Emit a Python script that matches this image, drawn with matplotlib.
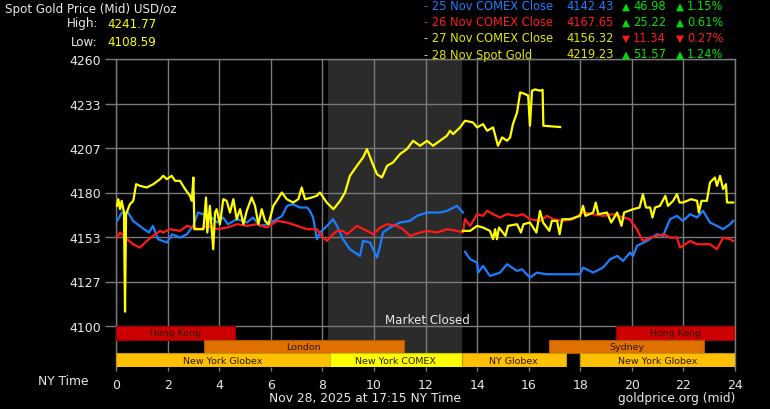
import numpy as np
import matplotlib
matplotlib.use("Agg")
import matplotlib.pyplot as plt
from matplotlib.patches import Rectangle

plt.rcParams['font.family'] = ['DejaVu Sans']

# ---------------- data ----------------
# 25 Nov COMEX Close (blue), two pieces
blue1_h = [0.04, 0.23, 0.47, 0.66, 1.00, 1.28, 1.43, 1.63, 1.98, 2.17, 2.48, 2.75, 2.99, 3.18, 3.37,
           3.64, 3.92, 4.15, 4.34, 4.69, 5.08, 5.31, 5.58, 5.89, 6.24, 6.44, 6.63, 6.86, 7.13, 7.41,
           7.52, 7.64, 7.79, 7.91, 8.18, 8.41, 8.57, 8.80, 9.07, 9.46, 9.58, 9.85, 9.97, 10.12, 10.24,
           10.35, 10.62, 11.01, 11.40, 11.67, 12.06, 12.56, 12.83, 13.22, 13.45]
blue1_v = [4163, 4168, 4168, 4163, 4159, 4156, 4160, 4152, 4150, 4155, 4153, 4155, 4160, 4168, 4167,
           4166, 4162, 4165, 4161, 4164, 4162, 4165, 4160, 4161, 4164, 4166, 4172, 4173, 4171, 4171,
           4169, 4165, 4152, 4156, 4160, 4164, 4160, 4152, 4146, 4142, 4151, 4150, 4146, 4141, 4148,
           4156, 4159, 4162, 4163, 4166, 4168, 4168, 4169, 4172, 4168]
blue2_h = [13.53, 13.73, 14.00, 14.04, 14.23, 14.50, 14.89, 15.16, 15.55, 15.74, 16.05, 16.32, 16.71,
           16.83, 17.99, 18.11, 18.50, 18.88, 19.16, 19.43, 19.66, 19.93, 20.05, 20.20, 20.59, 20.78,
           20.98, 21.21, 21.48, 21.75, 21.98, 22.26, 22.53, 22.76, 23.03, 23.30, 23.54, 23.81, 23.93]
blue2_v = [4144.5, 4140, 4138, 4132, 4136, 4130, 4132, 4137, 4133, 4134, 4129, 4132, 4131,
           4131, 4131, 4135, 4132, 4135, 4140, 4142, 4139, 4144, 4142, 4148, 4151, 4153,
           4155, 4154, 4164, 4166, 4163, 4167, 4165, 4169, 4162, 4160, 4158, 4161, 4163]

# 26 Nov COMEX Close (red)
red_h = [0.04, 0.16, 0.43, 0.66, 0.93, 1.20, 1.43, 1.71, 1.83, 2.09, 2.48, 2.75, 2.99, 3.26, 3.53,
         3.92, 4.30, 4.69, 5.08, 5.46, 5.85, 6.24, 6.63, 7.02, 7.41, 7.79, 8.03, 8.18, 8.41, 8.57,
         8.80, 8.96, 9.34, 9.73, 9.97, 10.24, 10.51, 10.89, 11.13, 11.40, 11.79, 12.06, 12.45, 12.83,
         13.22, 13.45, 13.53, 13.73, 14.00, 14.23, 14.39, 14.62, 14.89, 15.16, 15.55, 15.78, 16.05,
         16.44, 16.71, 16.94, 17.33, 17.72, 18.11, 18.50, 18.88, 19.27, 19.66, 19.93, 20.05, 20.20,
         20.32, 20.43, 20.71, 20.98, 21.21, 21.48, 21.75, 21.87, 21.98, 22.26, 22.53, 22.76, 23.03,
         23.30, 23.54, 23.81, 23.93]
red_v = [4153, 4156, 4152, 4149, 4147, 4151, 4154, 4157, 4156, 4158, 4157, 4160, 4159, 4158, 4160,
         4158, 4159, 4161, 4160, 4161, 4159, 4163, 4162, 4160, 4158, 4158, 4153, 4151, 4155, 4157,
         4157, 4155, 4160, 4157, 4155, 4159, 4161, 4160, 4158, 4154, 4156, 4157, 4156, 4158,
         4157, 4156, 4164, 4160, 4167, 4166, 4169, 4167, 4165, 4167, 4166, 4167, 4164,
         4163, 4166, 4164, 4163, 4164, 4168, 4167, 4166, 4167, 4165, 4164, 4161, 4158,
         4154, 4151, 4153, 4154, 4155, 4153, 4153, 4147, 4148, 4151, 4149, 4149, 4149,
         4146, 4153, 4152, 4151]

# 27 Nov COMEX Close (yellow, lower)
y27_h = [13.45, 13.73, 14.00, 14.23, 14.50, 14.62, 14.70, 14.77, 14.85, 15.10, 15.20, 15.55, 15.70,
         15.80, 16.05, 16.30, 16.44, 16.56, 16.80, 16.90, 17.10, 17.20, 17.30, 17.60, 17.99, 18.11,
         18.20, 18.50, 18.60, 18.70, 19.04, 19.20, 19.43, 19.60, 19.70, 20.05, 20.30, 20.43, 20.55,
         20.71, 20.80, 20.90, 21.09, 21.30, 21.40, 21.60, 21.75, 21.85, 21.98, 22.30, 22.53, 22.60,
         22.70, 22.91, 23.03, 23.22, 23.30, 23.42, 23.54, 23.65, 23.69, 23.93]
y27_v = [4157, 4157, 4160, 4159, 4157, 4152, 4158, 4152, 4159, 4154, 4160, 4161, 4156,
         4161, 4162, 4156, 4169, 4162, 4157, 4163, 4163, 4155, 4164, 4164, 4166, 4172,
         4166, 4168, 4174, 4167, 4168, 4162, 4168, 4160, 4168, 4170, 4171, 4179, 4171,
         4171, 4165, 4171, 4172, 4178, 4172, 4175, 4179, 4174, 4174, 4176, 4175, 4168,
         4175, 4175, 4186, 4189, 4184, 4190, 4182, 4185, 4174, 4174]

# 28 Nov Spot Gold (yellow, upper)
spot_h = [0.04, 0.09, 0.16, 0.22, 0.31, 0.35, 0.39, 0.54, 0.67, 0.78, 0.93, 1.19, 1.45, 1.71, 1.83,
          1.97, 2.16, 2.29, 2.48, 2.68, 2.87, 2.94, 3.00, 3.04, 3.13, 3.39, 3.49, 3.54, 3.64, 3.77,
          3.84, 3.90, 4.03, 4.16, 4.29, 4.42, 4.55, 4.68, 4.81, 4.94, 5.07, 5.26, 5.39, 5.52, 5.65,
          5.78, 5.91, 6.10, 6.23, 6.43, 6.62, 6.87, 7.07, 7.20, 7.33, 7.59, 7.78, 7.91, 8.17, 8.43,
          8.69, 8.88, 9.07, 9.34, 9.58, 9.73, 9.93, 10.12, 10.31, 10.51, 10.74, 11.01, 11.28, 11.52,
          11.79, 12.06, 12.29, 12.56, 12.83, 12.95, 13.07, 13.34, 13.53, 13.84, 14.00, 14.23, 14.39,
          14.62, 14.81, 14.97, 15.16, 15.28, 15.39, 15.55, 15.67, 15.86, 15.98, 16.05, 16.13, 16.25,
          16.44, 16.54, 16.57, 17.22]
spot_v = [4172, 4176, 4170, 4175, 4168, 4108.6, 4167, 4173, 4175, 4185, 4184, 4183, 4185, 4188, 4190,
          4188, 4190, 4187, 4187, 4182, 4178, 4175, 4189, 4158, 4158, 4158, 4177, 4156, 4172, 4146,
          4168, 4170, 4161, 4176, 4175, 4168, 4176, 4164, 4170, 4161, 4169, 4177, 4172, 4161, 4170,
          4163, 4161, 4172, 4175, 4180, 4176, 4174, 4176, 4183, 4176, 4177, 4178, 4180, 4174, 4170,
          4175, 4180, 4190, 4196, 4201, 4206, 4198, 4191, 4189, 4196, 4198, 4203, 4206, 4211,
          4208, 4211, 4208, 4211, 4214, 4217, 4215, 4219, 4223, 4222, 4219, 4221, 4217,
          4219, 4208, 4213, 4211, 4213, 4221, 4228, 4240, 4239, 4238, 4220, 4241, 4241.77,
          4241, 4241.5, 4220, 4219.23]

y_tick_labels = ["4100", "4127", "4153", "4180", "4207", "4233", "4260"]
x_ticks = list(range(0, 25, 2))

legend_labels = ["25 Nov COMEX Close", "26 Nov COMEX Close", "27 Nov COMEX Close", "28 Nov Spot Gold"]
legend_prices = [4142.43, 4167.65, 4156.32, 4219.23]
legend_changes = [46.98, 25.22, -11.34, 51.57]
legend_pcts = [1.15, 0.61, -0.27, 1.24]
legend_colors = ["#1a7fff", "#ff1a1a", "#e6e600", "#e6e600"]

high_val = 4241.77
low_val = 4108.59

closed_start, closed_end = 8.22, 13.41

sess_names = ["Hong Kong", "Hong Kong", "London", "Sydney",
              "New York Globex", "New York COMEX", "NY Globex", "New York Globex"]
sess_start = [0, 19.38, 3.41, 16.8, 0, 8.29, 13.41, 17.98]
sess_end = [4.61, 24, 11.16, 22.8, 8.29, 13.41, 17.44, 24]
sess_row = [2, 2, 1, 1, 0, 0, 0, 0]
sess_colors = ["#cc0000", "#cc0000", "#e07000", "#e07000",
               "#ffc000", "#ffff00", "#ffc000", "#ffc000"]
sess_edges = ["#990000", "#990000", "#b05800", "#b05800",
              "#c89400", "#c8c800", "#c89400", "#c89400"]

# ---------------- figure ----------------
W, H = 770, 410
fig = plt.figure(figsize=(W / 100, H / 100), dpi=100, facecolor="black")
ax_top_px, ax_bot_px, ax_l_px, ax_r_px = 60, 368, 116, 735
ax = fig.add_axes([ax_l_px / W, 1 - ax_bot_px / H, (ax_r_px - ax_l_px) / W, (ax_bot_px - ax_top_px) / H])
ax.set_facecolor("black")

y_hi, y_lo = 4260, 4100
px_per_unit = (327 - 60) / (y_hi - y_lo)
y_min = y_lo - (ax_bot_px - 327) / px_per_unit
ax.set_ylim(y_min, y_hi)
ax.set_xlim(0, 24)

grid_c = "#7a7a7a"
ax.set_yticks(np.linspace(y_lo, y_hi, len(y_tick_labels)))
ax.set_yticklabels(y_tick_labels)
ax.set_xticks(x_ticks)
ax.set_xticklabels([str(t) for t in x_ticks])
ax.grid(True, color=grid_c, lw=1, zorder=1)
ax.set_axisbelow(True)
for s in ["top", "right", "left"]:
    ax.spines[s].set_color(grid_c)
    ax.spines[s].set_linewidth(1)
ax.spines["bottom"].set_visible(False)
ax.tick_params(axis="y", colors="#e8e8e8", color=grid_c, length=8, width=1, pad=3, labelsize=9)
ax.tick_params(axis="x", colors="#e8e8e8", color=grid_c, length=3, width=1, pad=5, labelsize=9)

# frac of axes where 4100 sits
f4100 = (ax_bot_px - 327) / (ax_bot_px - ax_top_px)
row_h = f4100 / 3

# market closed shading
ax.axvspan(closed_start, closed_end, ymin=row_h, ymax=1, color="#2b2b2b", zorder=0.5, lw=0)
ax.text(12.06, (ax_bot_px - 320) / (ax_bot_px - ax_top_px), "Market Closed",
        transform=ax.get_xaxis_transform(), ha="center", va="center",
        color="#e8e8e8", fontsize=8.6, zorder=6)

# lines
lw = 1.6
ax.plot(blue1_h, blue1_v, color=legend_colors[0], lw=lw, zorder=3)
ax.plot(blue2_h, blue2_v, color=legend_colors[0], lw=lw, zorder=3)
ax.plot(red_h, red_v, color=legend_colors[1], lw=lw, zorder=3.2)
ax.plot(y27_h, y27_v, color="#ffff00", lw=lw, zorder=3.4)
ax.plot(spot_h, spot_v, color="#ffff00", lw=lw, zorder=3.5)

# sessions
trans = ax.get_xaxis_transform()
for name, s0, s1, r, c, ec in zip(sess_names, sess_start, sess_end, sess_row, sess_colors, sess_edges):
    rect = Rectangle((s0, r * row_h), s1 - s0, row_h, transform=trans,
                     facecolor=c, edgecolor=ec, lw=0.8, zorder=5)
    ax.add_patch(rect)
    ax.text((s0 + s1) / 2, r * row_h + row_h / 2, name, transform=trans,
            ha="center", va="center", fontsize=6.8, color="#2a1a00", zorder=6)

# header texts
def fx(px):
    return px / W

def fy(py):
    return 1 - py / H

txt_c = "#e8e8e8"
fig.text(fx(5), fy(10), "Spot Gold Price (Mid) USD/oz", color=txt_c, fontsize=8.6, va="center", ha="left")
fig.text(fx(98), fy(24), "High:", color=txt_c, fontsize=8.6, va="center", ha="right")
fig.text(fx(107), fy(24), f"{high_val:.2f}", color="#ffff00", fontsize=8.6, va="center", ha="left")
fig.text(fx(98), fy(43), "Low:", color=txt_c, fontsize=8.6, va="center", ha="right")
fig.text(fx(107), fy(43), f"{low_val:.2f}", color="#ffff00", fontsize=8.6, va="center", ha="left")

green, redc = "#00e000", "#ff1a1a"
for i, (lab, pr, ch, pc, col) in enumerate(zip(legend_labels, legend_prices, legend_changes, legend_pcts, legend_colors)):
    yy = fy(7 + 16 * i)
    fig.text(fx(424), yy, "- " + lab, color=col, fontsize=8.3, va="center", ha="left")
    fig.text(fx(566), yy, f"{pr:.2f}", color=col, fontsize=8.3, va="center", ha="left")
    up = ch >= 0
    cc = green if up else redc
    tri = "\u25B2" if up else "\u25BC"
    fig.text(fx(622), yy, tri, color=cc, fontsize=7.5, va="center", ha="left")
    fig.text(fx(633), yy, f"{abs(ch):.2f}", color=cc, fontsize=8.3, va="center", ha="left")
    fig.text(fx(676), yy, tri, color=cc, fontsize=7.5, va="center", ha="left")
    fig.text(fx(687), yy, f"{abs(pc):.2f}%", color=cc, fontsize=8.3, va="center", ha="left")

# footer
fig.text(fx(89), fy(382), "NY Time", color=txt_c, fontsize=8.8, va="center", ha="right")
fig.text(fx(365), fy(399), "Nov 28, 2025 at 17:15 NY Time", color=txt_c, fontsize=8.8, va="center", ha="center")
fig.text(fx(735), fy(399), "goldprice.org (mid)", color=txt_c, fontsize=8.8, va="center", ha="right")

fig.savefig("out.png", dpi=100, facecolor="black")
